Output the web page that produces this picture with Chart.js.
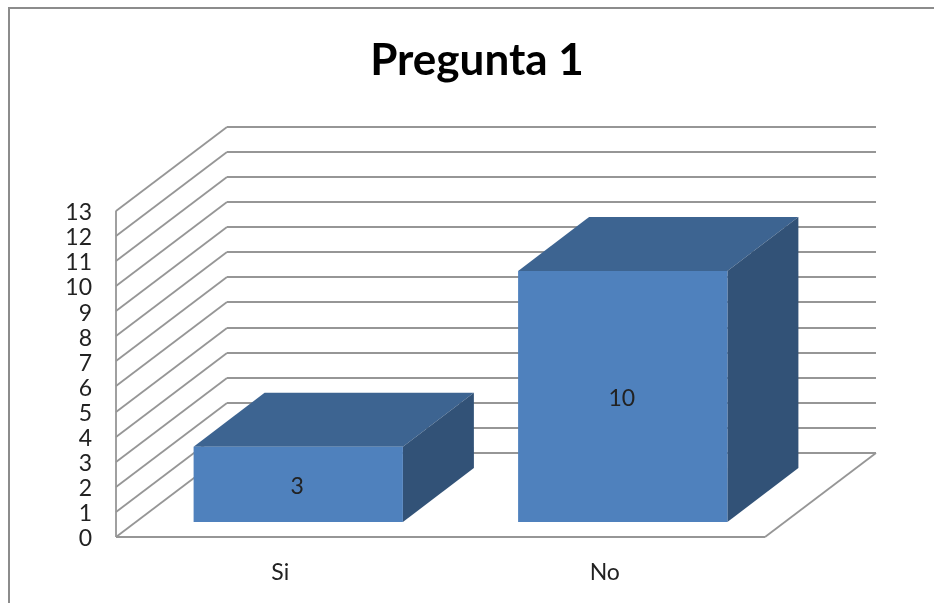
<!DOCTYPE html>
<html>
<head>
<meta charset="utf-8">
<title>Pregunta 1</title>
<script src="https://cdn.jsdelivr.net/npm/chart.js@4/dist/chart.umd.js"></script>
<style>
  html, body { margin: 0; padding: 0; background: #fff; overflow: hidden; }
  #wrap { position: relative; width: 934px; height: 603px; }
</style>
</head>
<body>
<div id="wrap"><canvas id="chart" width="934" height="603"></canvas></div>
<script>
const categories = ["Si", "No"];
const respuestas = [3, 10];
const valueTicks = [0, 1, 2, 3, 4, 5, 6, 7, 8, 9, 10, 11, 12, 13];
const chartTitle = "Pregunta 1";

const FONT = "Lato, Carlito, Calibri, sans-serif";
const TEXT = "#222222";
const GRID = "#969696";
const FRAME = "#8c8c8c";
const FRONT = "#4f81bd";
const TOP = "#3d6491";
const SIDE = "#325277";

// Oblique projection used for the walls and for the box depth
const WALL = { dx: 111, dy: -84 };
const BOX = { dx: 71, dy: -54 };
const BOX_SHIFT = { dx: 20, dy: -15 };

function segment(ctx, x1, y1, x2, y2) {
  ctx.beginPath();
  ctx.moveTo(x1, y1);
  ctx.lineTo(x2, y2);
  ctx.stroke();
}

function polygon(ctx, pts, fill) {
  ctx.fillStyle = fill;
  ctx.beginPath();
  pts.forEach((p, i) => (i ? ctx.lineTo(p[0], p[1]) : ctx.moveTo(p[0], p[1])));
  ctx.closePath();
  ctx.fill();
}

// Offsets an axis' tick labels by a few pixels to correct the font's baseline
function nudgeLabels(dx, dy) {
  return scale => {
    const compute = scale._computeLabelItems.bind(scale);
    scale._computeLabelItems = area => compute(area).map(item => {
      item.options.translation = [item.options.translation[0] + dx, item.options.translation[1] + dy];
      return item;
    });
  };
}

const outerFrame = {
  id: "outerFrame",
  beforeDraw(chart) {
    const { ctx, width, height } = chart;
    ctx.save();
    ctx.fillStyle = "#ffffff";
    ctx.fillRect(0, 0, width, height);
    ctx.strokeStyle = FRAME;
    ctx.lineWidth = 2;
    ctx.beginPath();
    ctx.moveTo(9, height);
    ctx.lineTo(9, 8);
    ctx.lineTo(width, 8);
    ctx.stroke();
    ctx.restore();
  }
};

const walls = {
  id: "walls",
  beforeDatasetsDraw(chart) {
    const { ctx, chartArea, scales } = chart;
    const left = chartArea.left, right = chartArea.right;
    const zero = scales.y.getPixelForValue(0);
    const peak = scales.y.getPixelForValue(valueTicks[valueTicks.length - 1]);
    ctx.save();
    ctx.strokeStyle = GRID;
    ctx.lineWidth = 1.8;
    valueTicks.forEach(v => {
      const y = Math.round(scales.y.getPixelForValue(v));
      segment(ctx, left, y, left + WALL.dx, y + WALL.dy);
      segment(ctx, left + WALL.dx, y + WALL.dy, right + WALL.dx, y + WALL.dy);
    });
    segment(ctx, left, peak, left, zero);
    segment(ctx, left, zero, right, zero);
    segment(ctx, right, zero, right + WALL.dx, zero + WALL.dy);
    ctx.restore();
  }
};

// Moves the bars onto the floor and adds their top and side faces
const boxes = {
  id: "boxes",
  beforeDatasetDraw(chart, args) {
    const { ctx } = chart;
    ctx.save();
    ctx.translate(BOX_SHIFT.dx, BOX_SHIFT.dy);
    args.meta.data.forEach(bar => {
      const l = bar.x - bar.width / 2, r = bar.x + bar.width / 2;
      const t = bar.y, b = bar.base;
      polygon(ctx, [[l, t], [l + BOX.dx, t + BOX.dy], [r + BOX.dx, t + BOX.dy], [r, t]], TOP);
      polygon(ctx, [[r, t], [r + BOX.dx, t + BOX.dy], [r + BOX.dx, b + BOX.dy], [r, b]], SIDE);
    });
  },
  afterDatasetDraw(chart, args) {
    const { ctx } = chart;
    ctx.restore();
    ctx.save();
    ctx.fillStyle = TEXT;
    ctx.font = "23px " + FONT;
    ctx.textAlign = "center";
    ctx.textBaseline = "middle";
    args.meta.data.forEach((bar, i) => {
      const value = chart.data.datasets[args.index].data[i];
      ctx.fillText(String(value), bar.x + BOX_SHIFT.dx - 1, (bar.y + bar.base) / 2 + BOX_SHIFT.dy + 2);
    });
    ctx.restore();
  }
};

new Chart(document.getElementById("chart"), {
  type: "bar",
  data: {
    labels: categories,
    datasets: [{
      label: chartTitle,
      data: respuestas,
      backgroundColor: FRONT,
      borderWidth: 0,
      categoryPercentage: 1,
      barPercentage: 0.645,
      clip: false
    }]
  },
  options: {
    responsive: false,
    animation: false,
    layout: { padding: { left: 20, right: 0, top: 0, bottom: 0 } },
    plugins: {
      legend: { display: false },
      tooltip: { enabled: false },
      title: {
        display: true,
        text: chartTitle,
        color: "#000000",
        font: { family: FONT, size: 44, weight: "bold", lineHeight: 1.2 },
        padding: { top: 34, bottom: 124 }
      }
    },
    scales: {
      x: {
        type: "category",
        grid: { display: false },
        border: { display: false },
        ticks: { color: TEXT, font: { family: FONT, size: 23 }, padding: 14, maxRotation: 0 },
        afterFit(scale) { scale.height = 66; },
        afterUpdate: nudgeLabels(2, 0)
      },
      y: {
        type: "linear",
        min: 0,
        max: 13,
        grid: { display: false, drawTicks: false },
        border: { display: false },
        ticks: { stepSize: 1, autoSkip: false, color: TEXT, font: { family: FONT, size: 23 }, padding: 24 },
        afterBuildTicks(scale) { scale.ticks = valueTicks.map(v => ({ value: v })); },
        afterFit(scale) { scale.width = 96; },
        afterUpdate: nudgeLabels(0, 1)
      },
      rightMargin: {
        type: "linear",
        position: "right",
        min: 0,
        max: 13,
        grid: { display: false, drawTicks: false },
        border: { display: false },
        ticks: { display: false },
        afterFit(scale) { scale.width = 169; }
      }
    }
  },
  plugins: [outerFrame, walls, boxes]
});
</script>
</body>
</html>
